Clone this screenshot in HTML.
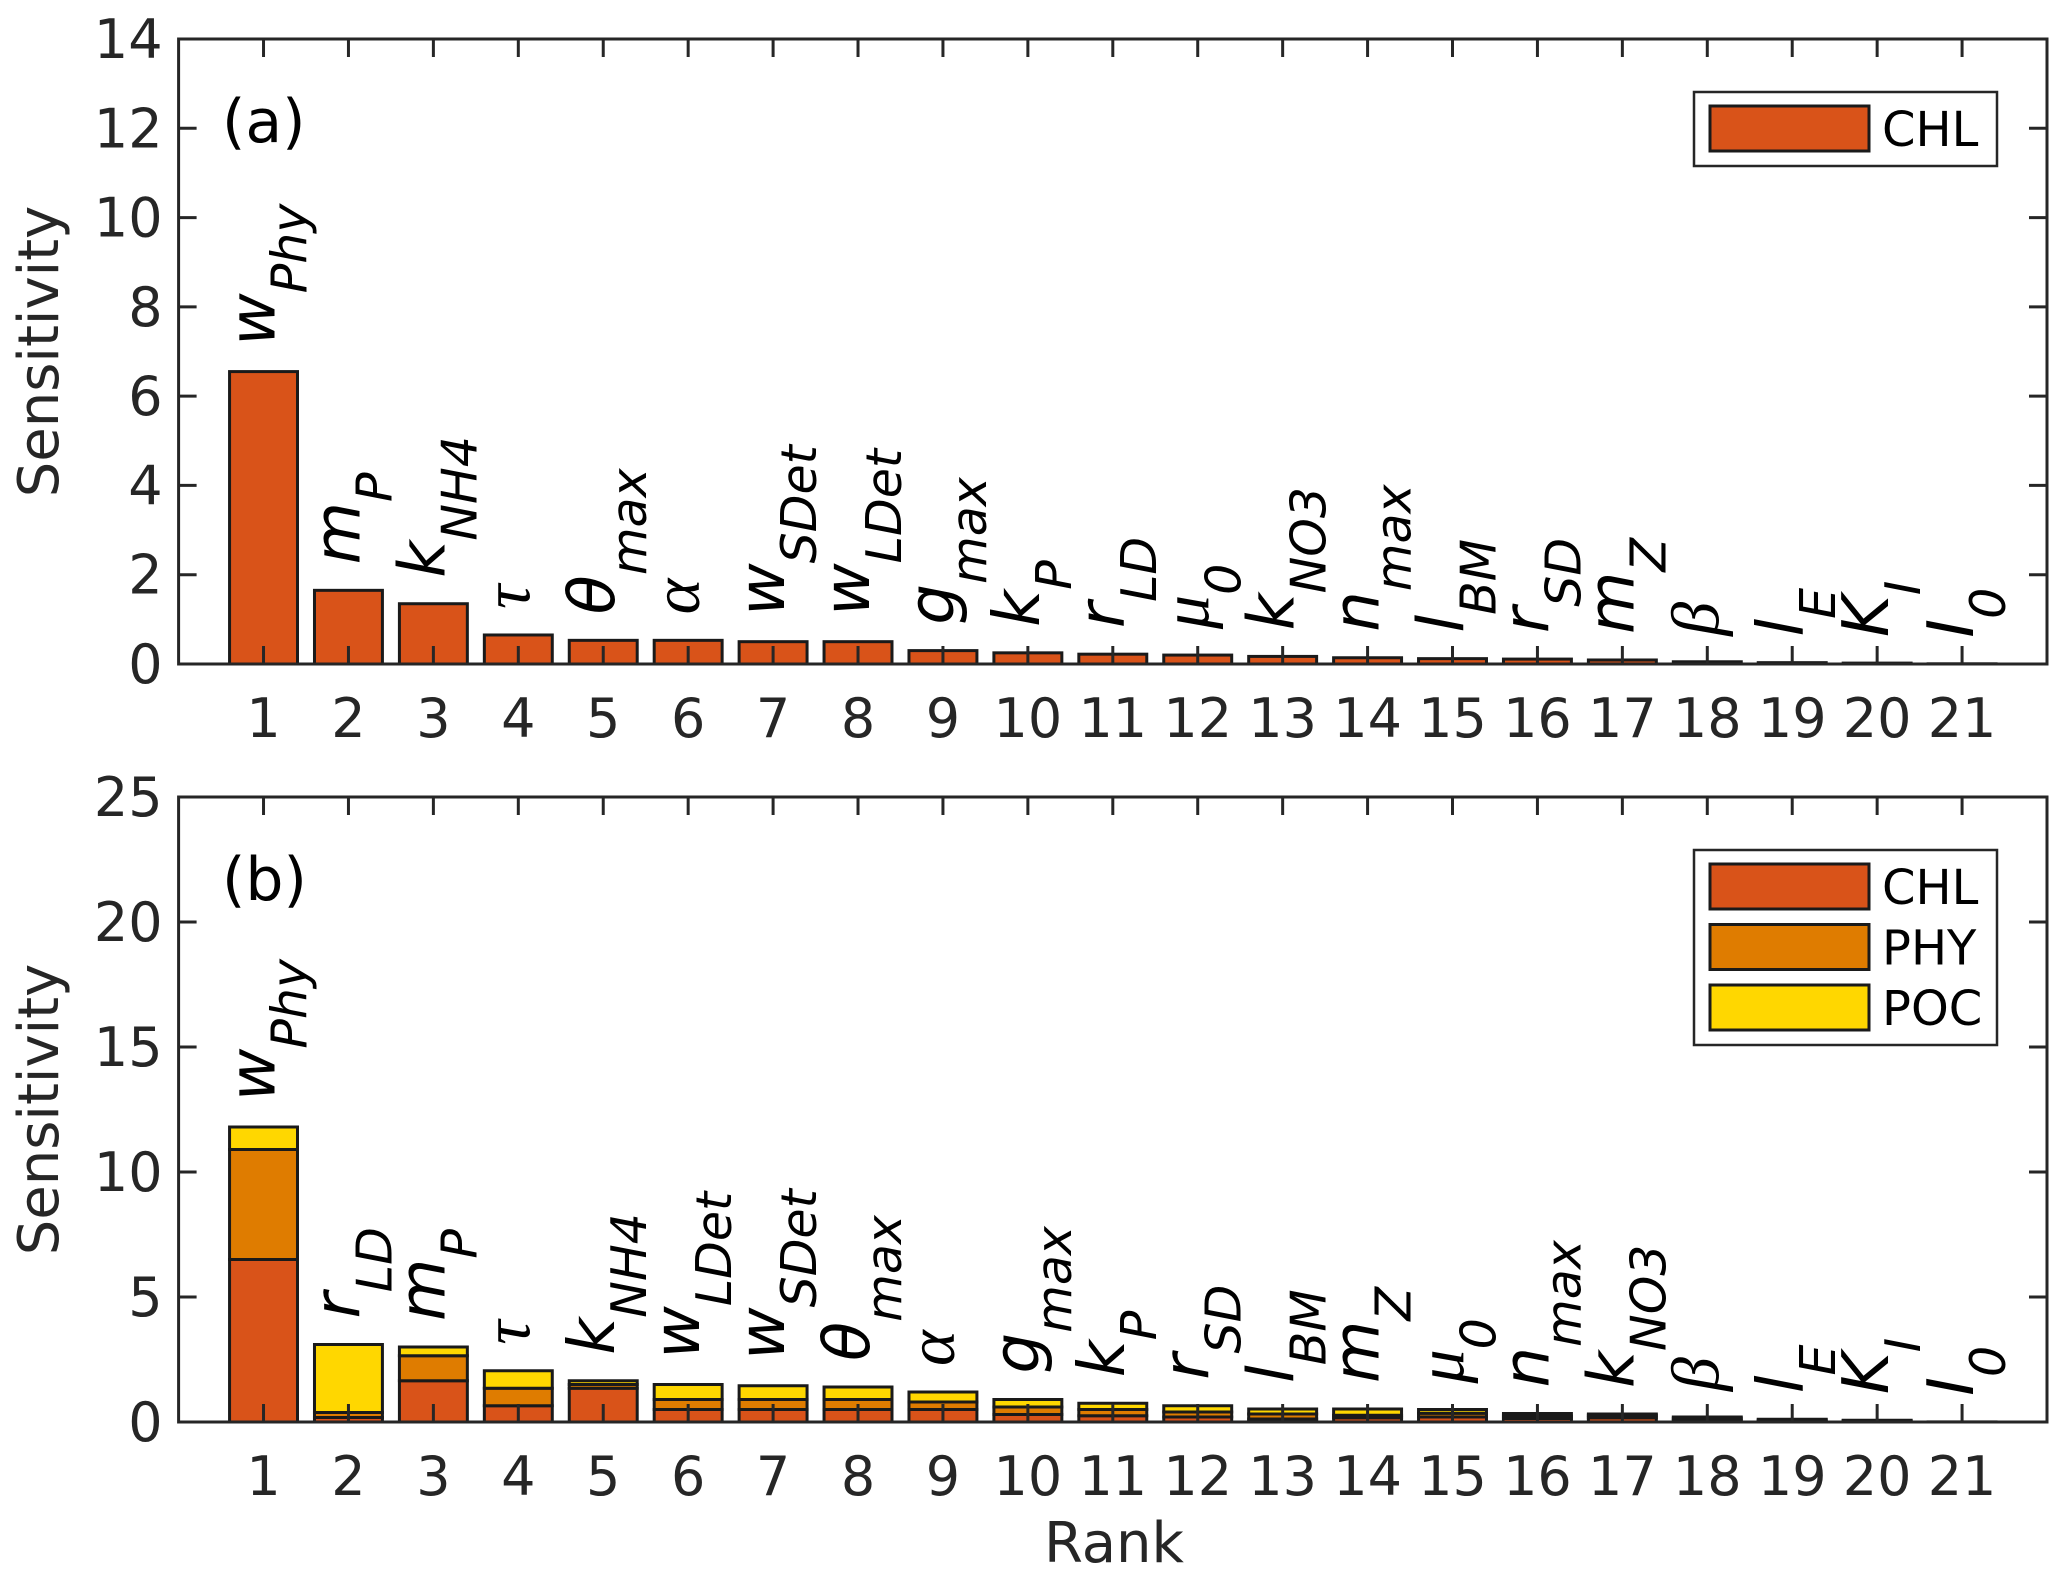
<!DOCTYPE html>
<html><head><meta charset="utf-8"><style>
html,body{margin:0;padding:0;background:#fff}
svg{display:block}
</style></head><body>
<svg id="chart" width="2067" height="1583" viewBox="0 0 2067 1583" xmlns="http://www.w3.org/2000/svg" font-family="'DejaVu Sans','Liberation Sans',sans-serif"></svg>
<script>
const ranks = [1,2,3,4,5,6,7,8,9,10,11,12,13,14,15,16,17,18,19,20,21];
const yTicksA = [0,2,4,6,8,10,12,14];
const yTicksB = [0,5,10,15,20,25];
const chlA = [6.55,1.65,1.35,0.65,0.53,0.53,0.5,0.5,0.3,0.25,0.22,0.2,0.17,0.14,0.12,0.11,0.09,0.05,0.03,0.02,0.005];
const labelsA = ["w|Phy","m|P","k|NH4","τ|","θ|max","α|","w|SDet","w|LDet","g|max","k|P","r|LD","μ|0","k|NO3","n|max","l|BM","r|SD","m|Z","β|","l|E","K|I","I|0"];
const chlB = [6.5,0.18,1.65,0.65,1.35,0.5,0.5,0.5,0.5,0.3,0.25,0.2,0.12,0.17,0.2,0.14,0.17,0.05,0.03,0.02,0.005];
const phyB = [4.4,0.2,1.0,0.7,0.15,0.4,0.4,0.4,0.3,0.3,0.25,0.2,0.2,0.1,0.15,0.1,0.1,0.1,0.05,0.03,0.0];
const pocB = [0.9,2.72,0.35,0.7,0.15,0.6,0.55,0.5,0.4,0.3,0.25,0.25,0.2,0.25,0.15,0.1,0.05,0.05,0.03,0.02,0.0];
const labelsB = ["w|Phy","r|LD","m|P","τ|","k|NH4","w|LDet","w|SDet","θ|max","α|","g|max","k|P","r|SD","l|BM","m|Z","μ|0","n|max","k|NO3","β|","l|E","K|I","I|0"];
const seriesNames = ["CHL","PHY","POC"];
const COL = {CHL:"#D95319", PHY:"#DF7C00", POC:"#FFD700"};

const svg = document.getElementById('chart');
const NS = "http://www.w3.org/2000/svg";
function mk(tag, attrs, parent){const e=document.createElementNS(NS,tag);for(const k in attrs)e.setAttribute(k,attrs[k]);(parent||svg).appendChild(e);return e;}
const L=178.6, R=2047;
const xS = v => L + v*(R-L)/22;
const greek = "ταβμ";

function panel(p){
  const yS = v => p.y0 - v*(p.y0-p.y1)/p.ymax;
  const g = mk('g',{});
  
  
  ranks.forEach((r,i)=>{
    let base=0;
    p.series.forEach((arr,si)=>{
      const v=arr[i];
      const bw=0.8*(R-L)/22;
      const rc=mk('rect',{x:xS(r)-bw/2,y:yS(base+v),width:bw,height:Math.max(0,yS(base)-yS(base+v)),fill:COL[seriesNames[si]],stroke:"#1a1a1a","stroke-width":3},g);
      
      
      base+=v;
    });
    const parts=p.labels[i].split('|');
    const ty=yS(base)-26, tx=xS(r)+11;
    const t=mk('text',{transform:`translate(${tx},${ty}) rotate(-90)`,"font-size":64,"font-style":"italic",fill:"#000"},g);
    
    
    const s1=mk('tspan',{},t); s1.textContent=parts[0];
    if(greek.includes(parts[0])){s1.setAttribute('font-family',"'Liberation Serif',serif");s1.setAttribute('font-size',68);s1.setAttribute('font-weight','normal');}
    if(parts[1]){const s2=mk('tspan',{dy:32,"font-size":49},t);s2.textContent=parts[1];}
  });
  const ax=mk('rect',{x:L,y:p.y1,width:R-L,height:p.y0-p.y1,fill:"none",stroke:"#262626","stroke-width":3},g);
  
  
  ranks.forEach(r=>{
    mk('line',{x1:xS(r),x2:xS(r),y1:p.y0,y2:p.y0-18,stroke:"#262626","stroke-width":3},g);
    mk('line',{x1:xS(r),x2:xS(r),y1:p.y1,y2:p.y1+18,stroke:"#262626","stroke-width":3},g);
    const tl=mk('text',{x:xS(r),y:p.y0+73,"text-anchor":"middle","font-size":54,fill:"#262626"},g);
    
    
    tl.textContent=r;
  });
  p.yticks.forEach(v=>{
    mk('line',{x1:L,x2:L+18,y1:yS(v),y2:yS(v),stroke:"#262626","stroke-width":3},g);
    mk('line',{x1:R,x2:R-18,y1:yS(v),y2:yS(v),stroke:"#262626","stroke-width":3},g);
    const tl=mk('text',{x:L-16,y:yS(v)+19,"text-anchor":"end","font-size":54,fill:"#262626"},g);
    
    
    tl.textContent=v;
  });
  const yt=mk('text',{transform:`translate(58,${(p.y0+p.y1)/2}) rotate(-90)`,"text-anchor":"middle","font-size":56,fill:"#262626"},g);
  
  
  yt.textContent="Sensitivity";
  const pl=mk('text',{x:222,y:p.y1+103,"font-size":60,fill:"#000"},g);
  
  
  pl.textContent=p.tag;
  const lg=mk('g',{},g);
  
  
  mk('rect',{x:1694,y:p.leg.y,width:303,height:p.leg.h,fill:"#fff",stroke:"#262626","stroke-width":2.5},lg);
  p.series.forEach((arr,si)=>{
    const yy=p.leg.y+14+si*60.5;
    mk('rect',{x:1710,y:yy,width:159,height:45,fill:COL[seriesNames[si]],stroke:"#1a1a1a","stroke-width":3},lg);
    const lt=mk('text',{x:1882,y:yy+40,"font-size":48,fill:"#000"},lg);
    
    
    lt.textContent=seriesNames[si];
  });
}
panel({name:'panel-a',y0:664,y1:39,ymax:14,yticks:yTicksA,series:[chlA],labels:labelsA,tag:'(a)',leg:{y:92,h:74}});
panel({name:'panel-b',y0:1422,y1:797,ymax:25,yticks:yTicksB,series:[chlB,phyB,pocB],labels:labelsB,tag:'(b)',leg:{y:850,h:195}});
const xt=mk('text',{x:1114,y:1562,"text-anchor":"middle","font-size":56,fill:"#262626"});


xt.textContent="Rank";
</script>
</body></html>
